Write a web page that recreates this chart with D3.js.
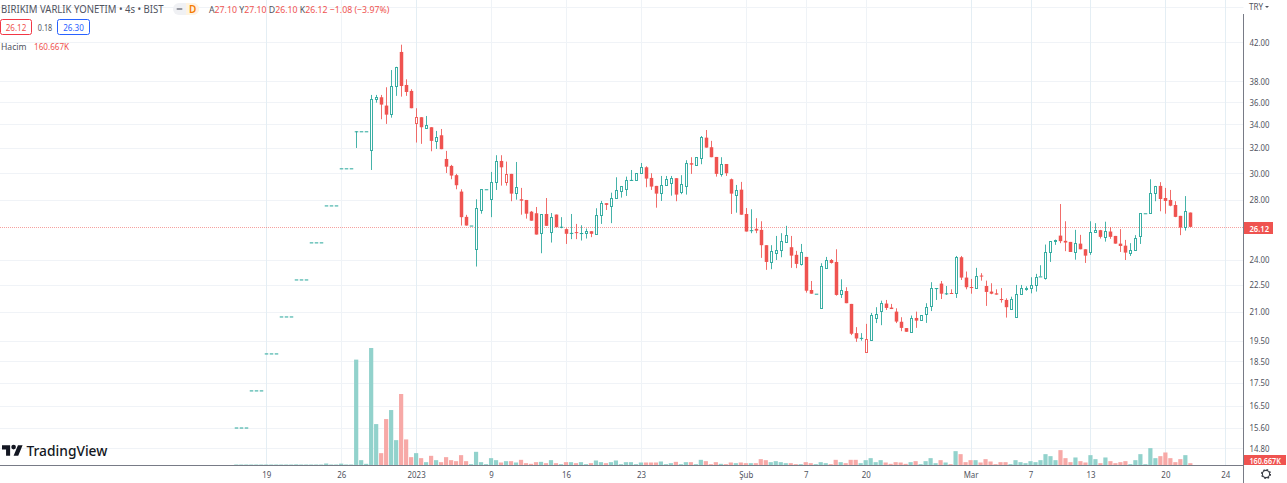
<!DOCTYPE html>
<html><head><meta charset="utf-8">
<script src="https://cdn.jsdelivr.net/npm/d3@7"></script>
<style>html,body{margin:0;padding:0;background:#fff}svg{display:block}text{font-family:"Noto Sans",sans-serif}</style>
</head><body><svg id="c" width="1287" height="483"></svg>
<script>
// ---------- DATA ----------
const opens = [15.60,15.60,15.60,17.16,17.16,17.16,18.87,18.87,18.87,20.75,20.75,20.75,22.82,22.82,22.82,25.10,25.10,25.10,27.60,27.60,27.60,30.36,30.36,30.36,
33.39,33.39,33.39,31.81,36.25,36.44,35.67,34.89,37.48,40.94,37.61,37.04,34.12,34.62,33.70,33.74,
32.55,33.05,31.10,30.55,29.83,28.60,26.80,26.21,24.66,27.30,28.77,28.04,29.30,30.94,29.30,29.93,
28.48,28.04,27.99,27.16,27.05,25.68,27.00,25.81,26.96,26.13,25.97,25.72,25.77,25.71,25.70,25.83,
25.66,26.91,27.76,27.56,28.11,28.67,28.82,29.47,29.49,29.98,30.44,29.62,29.02,28.48,29.07,29.22,
29.60,28.60,29.00,30.76,30.60,31.16,32.85,32.05,31.26,29.95,30.70,29.52,28.38,28.74,27.00,25.90,
25.99,25.92,24.92,23.89,24.45,24.62,25.15,24.79,24.31,23.77,24.18,22.21,22.00,21.23,23.53,23.99,
23.87,21.98,22.15,21.43,19.88,19.64,18.96,19.54,20.69,21.03,21.45,21.23,21.01,20.47,20.14,19.95,
20.67,20.55,20.90,21.32,22.32,22.58,22.02,22.04,22.02,24.16,22.93,22.38,22.32,23.05,22.44,22.12,
22.02,21.70,21.65,21.14,20.71,21.97,22.27,22.34,22.48,23.00,22.93,24.48,25.18,25.54,25.20,25.13,
24.48,25.02,24.66,24.51,25.77,25.90,25.48,25.81,25.52,25.02,24.89,24.41,24.60,25.50,27.05,27.09,
28.48,29.02,28.13,27.99,27.63,26.87,26.10,27.10];
const highs = [15.60,15.60,15.60,17.16,17.16,17.16,18.87,18.87,18.87,20.75,20.75,20.75,22.82,22.82,22.82,25.10,25.10,25.10,27.60,27.60,27.60,30.36,30.36,30.36,
33.39,33.39,33.39,36.66,36.66,36.66,37.39,39.08,39.41,41.71,38.16,37.20,35.43,34.62,34.73,33.74,
33.42,33.59,31.75,30.63,29.93,28.77,26.94,26.21,28.04,28.77,28.77,30.08,31.40,31.40,30.89,29.93,
30.86,28.87,27.99,27.21,27.49,26.98,28.13,27.07,26.96,26.78,26.03,27.00,26.32,26.23,26.01,25.83,
27.40,27.92,27.76,28.52,29.67,29.00,29.72,30.23,29.98,30.78,30.52,29.98,29.02,29.77,29.77,29.77,
29.60,29.83,31.00,31.24,31.24,32.99,33.50,32.58,31.26,31.24,30.70,29.57,29.09,29.32,27.42,27.33,
26.71,26.50,24.92,24.92,25.52,25.70,26.19,25.52,24.56,25.00,24.18,22.73,22.00,23.79,24.18,24.05,
24.66,22.83,22.37,21.43,20.19,19.88,20.36,20.94,21.25,21.61,21.65,21.43,21.19,20.71,20.14,20.80,
21.01,20.82,21.47,22.66,22.32,22.73,22.44,22.25,24.24,24.24,23.29,22.85,23.51,23.19,22.75,22.60,
22.25,22.32,21.74,21.83,22.50,22.50,22.42,22.95,23.15,23.67,24.96,25.18,25.28,27.70,26.50,25.13,
25.92,25.59,24.66,26.50,26.37,25.92,26.47,26.10,25.52,25.97,25.26,25.05,25.57,27.05,27.05,29.52,
29.02,29.30,28.87,28.72,27.90,26.87,28.27,27.10];
const lows = [15.60,15.60,15.60,17.16,17.16,17.16,18.87,18.87,18.87,20.75,20.75,20.75,22.82,22.82,22.82,25.10,25.10,25.10,27.60,27.60,27.60,30.36,30.36,30.36,
31.99,33.39,33.39,30.23,35.94,34.44,34.03,34.58,36.57,36.50,36.57,35.43,32.44,32.33,33.61,31.72,
31.91,31.89,30.00,29.52,28.77,26.21,26.21,26.21,23.59,27.02,28.77,26.78,28.72,29.04,29.04,27.90,
28.01,26.95,26.68,26.54,25.61,24.41,26.19,25.09,26.10,26.03,25.00,25.31,25.31,25.22,25.35,25.44,
25.66,26.32,27.28,26.37,28.08,28.16,28.28,29.39,29.47,29.98,28.92,28.72,27.44,27.92,29.07,28.30,
27.90,28.41,28.38,29.93,30.55,30.68,32.02,31.24,29.72,29.72,29.77,27.00,27.09,26.95,25.81,25.70,
25.70,24.12,23.39,23.43,23.99,24.16,25.15,23.51,23.49,23.65,22.06,22.00,22.00,21.23,23.53,23.77,
21.89,21.76,21.47,19.78,19.44,19.50,18.96,19.49,20.40,20.29,21.10,21.15,20.40,19.98,19.95,19.95,
20.15,20.55,20.41,21.04,21.65,21.70,21.93,22.00,21.76,22.79,22.25,22.00,22.28,22.75,21.32,21.97,
21.95,21.50,20.69,21.14,20.71,21.97,22.17,22.02,22.12,23.00,22.81,23.87,24.94,25.05,24.54,24.49,
24.01,24.66,23.81,24.31,25.77,25.35,25.15,25.33,25.02,24.49,23.99,24.24,24.60,25.00,27.05,27.09,
27.90,27.19,27.02,27.54,26.78,25.57,25.87,26.10];
const closes = [15.60,15.60,15.60,17.16,17.16,17.16,18.87,18.87,18.87,20.75,20.75,20.75,22.82,22.82,22.82,25.10,25.10,25.10,27.60,27.60,27.60,30.36,30.36,30.36,
33.39,33.39,33.39,36.25,36.44,35.76,34.85,37.48,39.41,37.51,36.94,35.43,34.62,33.74,33.94,32.58,
32.94,31.89,30.49,29.80,29.07,26.78,26.21,26.21,27.40,28.77,28.77,29.30,30.92,30.44,29.90,28.45,
28.92,27.94,27.02,26.54,25.61,26.98,26.19,26.80,26.10,26.13,25.66,25.72,25.71,25.71,25.83,25.66,
26.91,27.76,27.64,28.11,28.70,29.00,29.45,29.47,29.98,30.47,29.57,28.97,28.45,29.07,29.52,29.60,
28.38,29.19,30.76,30.65,31.24,32.94,32.02,31.24,29.93,30.70,29.98,28.45,28.70,26.95,25.81,25.90,
25.87,24.92,23.87,24.56,24.64,25.18,25.57,24.26,23.75,24.48,22.17,22.00,22.00,23.63,23.97,23.81,
21.93,22.19,21.47,19.85,19.61,19.64,19.58,20.82,20.87,21.47,21.21,21.15,20.48,20.15,19.95,20.66,
20.53,20.82,21.25,22.31,22.32,22.00,22.02,22.00,24.16,22.93,22.37,22.34,23.05,23.01,22.10,22.00,
21.95,21.66,21.25,21.69,21.97,22.31,22.34,22.48,22.97,23.00,24.48,25.18,25.28,25.18,25.09,24.49,
25.05,24.66,24.26,25.77,25.90,25.46,25.83,25.46,25.02,24.87,24.45,24.60,25.41,27.05,27.05,28.48,
29.02,28.06,27.92,27.58,26.80,26.07,27.20,26.12];
// thousands of shares
const volumes = [70,70,70,70,70,70,70,70,70,70,70,70,80,70,70,70,70,70,140,70,70,130,70,70,
7390,373,117,8200,2890,862,3240,3870,1770,4990,1820,583,862,513,233,676,373,233,583,373,303,722,
303,93,955,233,93,513,373,210,303,303,210,396,163,117,233,256,163,373,163,93,233,233,163,233,93,163,
350,233,163,233,350,93,233,233,93,210,210,210,210,280,93,163,256,93,233,233,93,396,303,93,233,117,93,
210,163,210,163,163,163,443,373,233,303,233,163,163,93,93,233,163,93,233,163,93,396,233,163,396,396,
163,373,513,233,373,210,117,233,210,117,233,303,93,303,513,163,373,210,93,1002,792,233,373,373,210,443,
280,93,233,233,93,373,233,163,303,233,373,792,652,373,1072,513,233,560,303,210,722,443,163,560,303,163,
233,303,93,373,792,93,1212,513,652,909,513,233,443,722,160.667];
const timeTicks = [[6,"19"],[21,"26"],[36,"2023"],[51,"9"],[66,"16"],[81,"23"],[102,"Şub"],[114,"7"],[126,"20"],[147,"Mar"],[159,"7"],[171,"13"],[186,"20"],[198,"24"]];
const priceTicks = [42,38,36,34,32,30,28,24,22.5,21,19.5,18.5,17.5,16.5,15.6,14.8];
const gridOnlyPrices = [46];
const lastPrice = 26.12;

// ---------- LAYOUT ----------
const W=1287,H=483,axisX=1243.5,axisY=465.5;
const UP="#26a69a",DOWN="#ef5350",TXT="#50535e";
const svg=d3.select("#c");
const x=d3.scaleLinear().domain([0,198]).range([236.3,236.3+198*4.995]);
const y=d3.scaleLog().domain([42,14.8]).range([42,448]);
const v=d3.scaleLinear().domain([0,8200]).range([axisY,348]);
const bars=d3.range(opens.length).map(i=>({i,o:opens[i],h:highs[i],l:lows[i],c:closes[i],vol:volumes[i],prev:i?closes[i-1]:closes[i]}));
const strongV=new Set([6,36,147,159,171,186,198]);
// horizontal squeeze of a text selection: the reference type is narrower than the installed fonts
function squeeze(sel,k){sel.each(function(){const n=this.getComputedTextLength();d3.select(this).attr("textLength",n*k).attr("lengthAdjust","spacingAndGlyphs");});return sel;}

// grid
const g=svg.append("g");
g.selectAll(".hg").data(priceTicks.concat(gridOnlyPrices)).join("line")
 .attr("x1",0).attr("x2",axisX).attr("y1",d=>Math.round(y(d))+.5).attr("y2",d=>Math.round(y(d))+.5)
 .attr("stroke","#f0f3f7").attr("stroke-width",1);
g.selectAll(".vg").data(timeTicks).join("line")
 .attr("x1",d=>Math.round(x(d[0]))+.5).attr("x2",d=>Math.round(x(d[0]))+.5).attr("y1",0).attr("y2",axisY)
 .attr("stroke",d=>strongV.has(d[0])?"#e4eef4":"#eff3f7");

// volume
svg.append("g").selectAll("rect").data(bars).join("rect")
 .attr("x",d=>x(d.i)-2.1).attr("width",4.2).attr("y",d=>v(d.vol)).attr("height",d=>axisY-v(d.vol))
 .attr("fill",d=>d.c>=d.o?"#92d2cc":"#f7a9a7");

// last price line
svg.append("line").attr("x1",0).attr("x2",axisX).attr("y1",Math.round(y(lastPrice))+.5).attr("y2",Math.round(y(lastPrice))+.5)
 .attr("stroke",DOWN).attr("stroke-opacity",.55).attr("stroke-dasharray","1 1");

// candles
const col=d=>d.c>=d.prev?UP:DOWN;
const px=d=>Math.round(x(d.i));
const cg=svg.append("g");
cg.selectAll(".w").data(bars).join("line")
 .attr("x1",d=>px(d)+.5).attr("x2",d=>px(d)+.5).attr("y1",d=>y(d.h)).attr("y2",d=>y(d.l))
 .attr("stroke",col).attr("stroke-opacity",.85).attr("stroke-width",1);
cg.selectAll(".b").data(bars).join("rect")
 .attr("x",d=>d.c>d.o?px(d)-.5:px(d)-1.25).attr("width",d=>d.c>d.o?2:3.5)
 .attr("y",d=>d.c>d.o?Math.round(y(d.c))+.5:y(Math.max(d.o,d.c)))
 .attr("height",d=>d.c>d.o?Math.max(1,Math.round(y(d.o))-Math.round(y(d.c))):Math.max(1,Math.abs(y(d.o)-y(d.c))))
 .attr("fill",d=>d.c>d.o?"#fff":col(d)).attr("stroke",d=>d.c>d.o?col(d):"none").attr("stroke-opacity",.9).attr("stroke-width",1);

// axes
const ay=d3.axisRight(y).tickValues(priceTicks).tickSize(0).tickPadding(6).tickFormat(d3.format(".2f"));
const ayg=svg.append("g").attr("transform",`translate(${axisX},0)`).call(ay);
ayg.select(".domain").remove();
ayg.selectAll("text").attr("fill",TXT).style("font-size","9.5px").call(squeeze,.82);
const ax=d3.axisBottom(x).tickValues(timeTicks.map(d=>d[0])).tickSize(0).tickPadding(6)
  .tickFormat(d=>timeTicks.find(t=>t[0]===d)[1]);
const axg=svg.append("g").attr("transform",`translate(0,${axisY})`).call(ax);
axg.select(".domain").remove();
axg.selectAll("text").attr("fill",TXT).style("font-size","9.5px").call(squeeze,.83);
svg.append("line").attr("x1",0).attr("x2",axisX).attr("y1",axisY).attr("y2",axisY).attr("stroke","#787b86");
svg.append("line").attr("x1",axisX).attr("x2",axisX).attr("y1",14).attr("y2",H).attr("stroke","#787b86");

// price labels
svg.append("rect").attr("x",1244).attr("y",222).attr("width",29).attr("height",12).attr("fill",DOWN);
svg.append("text").attr("x",1249.5).attr("y",231.5).attr("fill","#fff").style("font-size","9.5px").style("font-weight",600).text("26.12").call(squeeze,.8);
svg.append("rect").attr("x",1244).attr("y",455).attr("width",42).attr("height",10).attr("fill",DOWN);
svg.append("text").attr("transform","translate(1249.5,463.5) scale(.76,1)").attr("fill","#fff").style("font-size","9.5px").style("font-weight",600).text("160.667K");
svg.append("text").attr("x",1249).attr("y",10).attr("fill",TXT).style("font-size","9.5px").text("TRY").call(squeeze,.85);
svg.append("path").attr("d","M1265 6h4l-2 2z").attr("fill",TXT);

// gear
const gear=svg.append("g").attr("transform","translate(1266,474)");
gear.append("circle").attr("r",3.6).attr("fill","none").attr("stroke","#3a3d46").attr("stroke-width",1.1);
gear.append("circle").attr("r",4.4).attr("fill","none").attr("stroke","#3a3d46").attr("stroke-width",1.3).attr("stroke-dasharray","1.7 1.75");

// header
svg.append("text").attr("x",1).attr("y",13).attr("fill","#50535e").style("font-size","10.5px").text("BIRIKIM VARLIK YONETIM • 4s • BIST").call(squeeze,.91);
svg.append("rect").attr("x",173).attr("y",3).attr("width",26).attr("height",12).attr("rx",6).attr("fill","#f0f1f4");
svg.append("path").attr("d","M186 3h7a6 6 0 0 1 0 12h-7z").attr("fill","#fff3e0");
svg.append("rect").attr("x",176.5).attr("y",8.2).attr("width",6).attr("height",1.6).attr("rx",.8).attr("fill","#787b86");
svg.append("text").attr("x",189).attr("y",13).attr("fill","#f57c00").style("font-size","10px").style("font-weight",600).text("D");
const ohlc=svg.append("text").attr("x",209).attr("y",13).style("font-size","9.5px");
[["A",TXT],["27.10",DOWN],[" Y",TXT],["27.10",DOWN],[" D",TXT],["26.10",DOWN],[" K",TXT],["26.12",DOWN],[" −1.08 (−3.97%)",DOWN]]
 .forEach(p=>ohlc.append("tspan").attr("fill",p[1]).attr("xml:space","preserve").text(p[0]));
ohlc.call(squeeze,.92);
svg.append("rect").attr("x",.5).attr("y",19.5).attr("width",31).attr("height",15).attr("rx",2).attr("fill","#fff").attr("stroke","#f23645");
svg.append("text").attr("x",16).attr("y",31).attr("text-anchor","middle").attr("fill",DOWN).style("font-size","9.5px").text("26.12").call(squeeze,.85);
svg.append("text").attr("x",45).attr("y",31).attr("text-anchor","middle").attr("fill",TXT).style("font-size","8px").text("0.18").call(squeeze,.9);
svg.append("rect").attr("x",57.5).attr("y",19.5).attr("width",32).attr("height",15).attr("rx",2).attr("fill","#fff").attr("stroke","#2962ff");
svg.append("text").attr("x",73.5).attr("y",31).attr("text-anchor","middle").attr("fill","#2962ff").style("font-size","9.5px").text("26.30").call(squeeze,.85);
svg.append("text").attr("x",1).attr("y",49.5).attr("fill",TXT).style("font-size","9.5px").text("Hacim").call(squeeze,.9);
svg.append("text").attr("x",34).attr("y",49.5).attr("fill",DOWN).style("font-size","9.5px").text("160.667K").call(squeeze,.857);

// logo
svg.append("path").attr("transform","translate(2,443) scale(.58)")
 .attr("d","M14 22H7V11H0V4h14v18zM28 22h-8l7.5-18h8L28 22z").attr("fill","#131722");
svg.append("circle").attr("cx",2+20*.58).attr("cy",443+7*.58).attr("r",4*.58).attr("fill","#131722");
svg.append("text").attr("x",26.5).attr("y",456).attr("fill","#131722").style("font-size","14.5px").style("font-weight",500).text("TradingView").call(squeeze,.95);
</script></body></html>
